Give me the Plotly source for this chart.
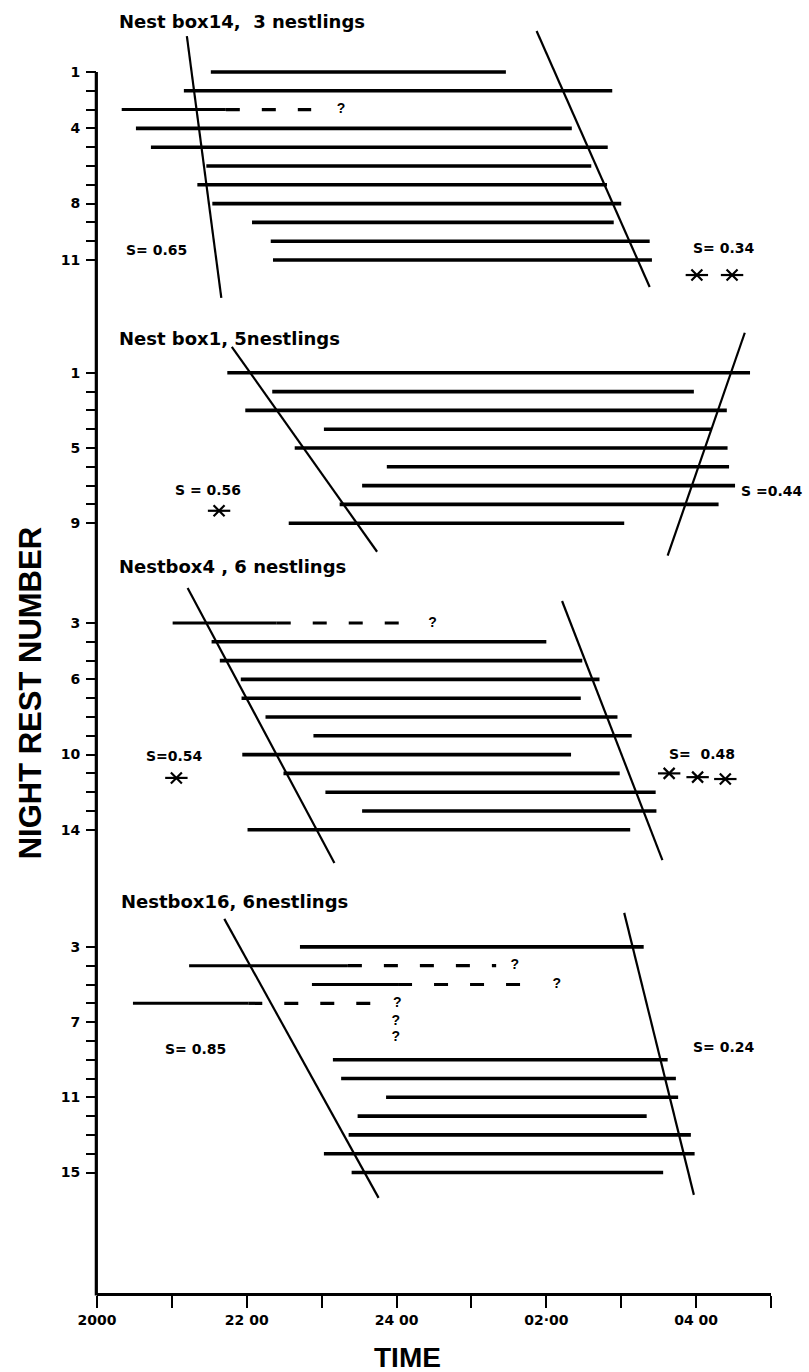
import plotly.graph_objects as go

# ---------------- DATA (time in hours on a continuous clock: 24 = midnight, 28 = 04:00) ----------
# Panel 1: Nest box 14, 3 nestlings
p1_title = "Nest box14,\u00a0\u00a03 nestlings"
p1_nights = [1, 2, 4, 5, 6, 7, 8, 9, 10, 11]
p1_start = [21.52, 21.16, 20.52, 20.72, 21.46, 21.34, 21.54, 22.07, 22.32, 22.35]
p1_end = [25.46, 26.88, 26.34, 26.82, 26.60, 26.81, 27.00, 26.90, 27.38, 27.41]
p1_unc_nights = [3]
p1_unc_start = [20.33]
p1_unc_solid_end = [21.72]
p1_unc_dash_end = [22.86]
p1_q_nights = [3]
p1_q_time = [23.26]
p1_onset_time = [21.20, 21.66]
p1_onset_night = [-0.91, 13.02]
p1_wake_time = [25.87, 27.38]
p1_wake_night = [-1.18, 12.44]
p1_s_labels = ["S=\u00a00.65", "S=\u00a00.34"]
p1_s_time = [20.79, 28.37]
p1_s_night = [10.47, 10.36]
p1_star_time = [28.01, 28.48]
p1_star_night = [11.8, 11.8]
p1_ticks = list(range(1, 12))
p1_tick_labels = [1, 4, 8, 11]

# Panel 2: Nest box 1, 5 nestlings
p2_title = "Nest box1, 5nestlings"
p2_nights = [1, 2, 3, 4, 5, 6, 7, 8, 9]
p2_start = [21.74, 22.34, 21.98, 23.03, 22.64, 23.87, 23.54, 23.24, 22.56]
p2_end = [28.72, 27.97, 28.41, 28.20, 28.42, 28.44, 28.52, 28.30, 27.04]
p2_unc_nights = []
p2_unc_start = []
p2_unc_solid_end = []
p2_unc_dash_end = []
p2_q_nights = []
p2_q_time = []
p2_onset_time = [21.80, 23.74]
p2_onset_night = [-0.38, 10.52]
p2_wake_time = [28.65, 27.62]
p2_wake_night = [-1.13, 10.73]
p2_s_labels = ["S\u00a0=\u00a00.56", "S\u00a0=0.44"]
p2_s_time = [21.48, 29.0]
p2_s_night = [7.22, 7.28]
p2_star_time = [21.63]
p2_star_night = [8.34]
p2_ticks = list(range(1, 10))
p2_tick_labels = [1, 5, 9]

# Panel 3: Nest box 4, 6 nestlings
p3_title = "Nestbox4 , 6 nestlings"
p3_nights = [4, 5, 6, 7, 8, 9, 10, 11, 12, 13, 14]
p3_start = [21.53, 21.64, 21.92, 21.93, 22.25, 22.89, 21.94, 22.49, 23.05, 23.54, 22.01]
p3_end = [26.00, 26.48, 26.71, 26.46, 26.95, 27.14, 26.33, 26.98, 27.46, 27.47, 27.12]
p3_unc_nights = [3]
p3_unc_start = [21.01]
p3_unc_solid_end = [22.40]
p3_unc_dash_end = [24.28]
p3_q_nights = [3]
p3_q_time = [24.48]
p3_onset_time = [21.21, 23.17]
p3_onset_night = [1.14, 15.77]
p3_wake_time = [26.21, 27.55]
p3_wake_night = [1.83, 15.61]
p3_s_labels = ["S=0.54", "S=\u00a0\u00a00.48"]
p3_s_time = [21.03, 28.08]
p3_s_night = [10.07, 9.97]
p3_star_time = [21.06, 27.64, 28.02, 28.39]
p3_star_night = [11.24, 11.0, 11.2, 11.3]
p3_ticks = list(range(3, 15))
p3_tick_labels = [3, 6, 10, 14]

# Panel 4: Nest box 16, 6 nestlings
p4_title = "Nestbox16, 6nestlings"
p4_nights = [3, 9, 10, 11, 12, 13, 14, 15]
p4_start = [22.71, 23.15, 23.26, 23.86, 23.48, 23.36, 23.03, 23.40]
p4_end = [27.30, 27.62, 27.73, 27.76, 27.34, 27.93, 27.98, 27.56]
p4_unc_nights = [4, 5, 6]
p4_unc_start = [21.23, 22.87, 20.48]
p4_unc_solid_end = [23.35, 24.02, 22.02]
p4_unc_dash_end = [25.33, 25.82, 23.82]
p4_q_nights = [4, 5, 6, 6.95, 7.8]
p4_q_time = [25.58, 26.14, 24.01, 23.99, 23.99]
p4_onset_time = [21.70, 23.76]
p4_onset_night = [1.51, 16.35]
p4_wake_time = [27.04, 27.97]
p4_wake_night = [1.19, 16.19]
p4_s_labels = ["S=\u00a00.85", "S=\u00a00.24"]
p4_s_time = [21.31, 28.36]
p4_s_night = [8.43, 8.32]
p4_star_time = []
p4_star_night = []
p4_ticks = list(range(3, 16))
p4_tick_labels = [3, 7, 11, 15]

x_tick_hours = list(range(20, 30))
x_label_hours = [20, 22, 24, 26, 28]
x_label_text = ["2000", "22 00", "24 00", "02\u00b700", "04 00"]

# ---------------- LAYOUT HELPERS ----------------
panel_offset = [0.0, 16.0, 27.31, 44.54]
title_pos = [(20.27, -1.71), (20.27, -0.81), (20.27, -0.03), (20.29, 0.61)]
y_top, y_bottom = -2.83, 65.95

panels = [
    dict(title=p1_title, n=p1_nights, s=p1_start, e=p1_end, un=p1_unc_nights, us=p1_unc_start,
         ue=p1_unc_solid_end, ud=p1_unc_dash_end, qn=p1_q_nights, qt=p1_q_time,
         ot=p1_onset_time, on=p1_onset_night, wt=p1_wake_time, wn=p1_wake_night,
         sl=p1_s_labels, st=p1_s_time, sn=p1_s_night, xt=p1_star_time, xn=p1_star_night,
         ticks=p1_ticks, labels=p1_tick_labels),
    dict(title=p2_title, n=p2_nights, s=p2_start, e=p2_end, un=p2_unc_nights, us=p2_unc_start,
         ue=p2_unc_solid_end, ud=p2_unc_dash_end, qn=p2_q_nights, qt=p2_q_time,
         ot=p2_onset_time, on=p2_onset_night, wt=p2_wake_time, wn=p2_wake_night,
         sl=p2_s_labels, st=p2_s_time, sn=p2_s_night, xt=p2_star_time, xn=p2_star_night,
         ticks=p2_ticks, labels=p2_tick_labels),
    dict(title=p3_title, n=p3_nights, s=p3_start, e=p3_end, un=p3_unc_nights, us=p3_unc_start,
         ue=p3_unc_solid_end, ud=p3_unc_dash_end, qn=p3_q_nights, qt=p3_q_time,
         ot=p3_onset_time, on=p3_onset_night, wt=p3_wake_time, wn=p3_wake_night,
         sl=p3_s_labels, st=p3_s_time, sn=p3_s_night, xt=p3_star_time, xn=p3_star_night,
         ticks=p3_ticks, labels=p3_tick_labels),
    dict(title=p4_title, n=p4_nights, s=p4_start, e=p4_end, un=p4_unc_nights, us=p4_unc_start,
         ue=p4_unc_solid_end, ud=p4_unc_dash_end, qn=p4_q_nights, qt=p4_q_time,
         ot=p4_onset_time, on=p4_onset_night, wt=p4_wake_time, wn=p4_wake_night,
         sl=p4_s_labels, st=p4_s_time, sn=p4_s_night, xt=p4_star_time, xn=p4_star_night,
         ticks=p4_ticks, labels=p4_tick_labels),
]

FONT = "Liberation Sans, Arial, sans-serif"
TFONT = "DejaVu Sans, Liberation Sans, sans-serif"
BAR_W = 3.6
fig = go.Figure()
annotations = []
tickvals, ticktext = [], []

for i, p in enumerate(panels):
    off = panel_offset[i]
    # solid night-rest bars
    xs, ys = [], []
    for n, s, e in zip(p["n"], p["s"], p["e"]):
        xs += [s, e, None]
        ys += [off + n, off + n, None]
    fig.add_trace(go.Scatter(x=xs, y=ys, mode="lines", line=dict(color="black", width=BAR_W),
                             hoverinfo="skip", showlegend=False))
    # uncertain bars: solid part then dashed part
    xs, ys, xd, yd = [], [], [], []
    for n, s, e, d in zip(p["un"], p["us"], p["ue"], p["ud"]):
        xs += [s, e, None]
        ys += [off + n, off + n, None]
        xd += [e, d, None]
        yd += [off + n, off + n, None]
    if xs:
        fig.add_trace(go.Scatter(x=xs, y=ys, mode="lines", line=dict(color="black", width=3.0),
                                 hoverinfo="skip", showlegend=False))
        fig.add_trace(go.Scatter(x=xd, y=yd, mode="lines",
                                 line=dict(color="black", width=3.2, dash="14px,22px"),
                                 hoverinfo="skip", showlegend=False))
    if p["qn"]:
        fig.add_trace(go.Scatter(x=p["qt"], y=[off + n for n in p["qn"]], mode="text",
                                 text=["?"] * len(p["qn"]),
                                 textfont=dict(family=FONT, size=14, color="black", weight="bold"),
                                 hoverinfo="skip", showlegend=False))
    # regression lines (onset and wake-up)
    for lx, ln in ((p["ot"], p["on"]), (p["wt"], p["wn"])):
        fig.add_trace(go.Scatter(x=lx, y=[off + n for n in ln], mode="lines",
                                 line=dict(color="black", width=2.2),
                                 hoverinfo="skip", showlegend=False))
    # stars
    if p["xt"]:
        sy = [off + n for n in p["xn"]]
        fig.add_trace(go.Scatter(x=p["xt"], y=sy, mode="markers",
                                 marker=dict(symbol="x-thin", size=11, line=dict(width=2.2, color="black")),
                                 hoverinfo="skip", showlegend=False))
        fig.add_trace(go.Scatter(x=p["xt"], y=sy, mode="markers",
                                 marker=dict(symbol="line-ew", size=16, line=dict(width=2.2, color="black")),
                                 hoverinfo="skip", showlegend=False))
    # S labels
    for lab, t, n in zip(p["sl"], p["st"], p["sn"]):
        annotations.append(dict(x=t, y=off + n, xref="x", yref="y", text=lab, showarrow=False,
                                xanchor="center", yanchor="middle",
                                font=dict(family=TFONT, size=14, color="black", weight="bold")))
    # panel title
    tx, tn = title_pos[i]
    annotations.append(dict(x=tx, y=off + tn, xref="x", yref="y", text=p["title"], showarrow=False,
                            xanchor="left", yanchor="middle",
                            font=dict(family=TFONT, size=18, color="black", weight="bold")))
    # y ticks
    for t in p["ticks"]:
        tickvals.append(off + t)
        ticktext.append(str(t) if t in p["labels"] else "")

# axis titles
annotations.append(dict(x=0.46, y=-0.05, xref="paper", yref="paper", text="TIME", showarrow=False,
                        xanchor="center", yanchor="middle",
                        font=dict(family=FONT, size=28, color="black", weight="bold")))
annotations.append(dict(x=-0.099, y=0.464, xref="paper", yref="paper", text="NIGHT REST NUMBER",
                        showarrow=False, textangle=-90, xanchor="center", yanchor="middle",
                        font=dict(family=FONT, size=31, color="black", weight="bold")))

# vertical axis line (starts at the first night of panel 1), paper-referenced so it is not clipped
axis_top_frac = (y_bottom - (panel_offset[0] + p1_ticks[0])) / (y_bottom - y_top)
shapes = [dict(type="line", xref="paper", yref="paper", x0=-0.001, x1=-0.001,
               y0=axis_top_frac, y1=-0.002, line=dict(color="black", width=3.2))]

fig.update_layout(
    width=809, height=1372,
    margin=dict(l=97, r=38, t=0, b=79),
    paper_bgcolor="white", plot_bgcolor="white",
    showlegend=False,
    annotations=annotations,
    shapes=shapes,
    xaxis=dict(range=[20, 29], showgrid=False, zeroline=False, showline=True, linecolor="black",
               linewidth=3.2, ticks="outside", ticklen=12, tickwidth=2.2, tickcolor="black",
               tickvals=x_tick_hours,
               ticktext=[x_label_text[x_label_hours.index(h)] if h in x_label_hours else "" for h in x_tick_hours],
               tickfont=dict(family=TFONT, size=14, color="black", weight="bold")),
    yaxis=dict(range=[y_bottom, y_top], showgrid=False, zeroline=False, showline=False,
               ticks="outside", ticklen=10, tickwidth=2.2, tickcolor="black",
               tickvals=tickvals, ticktext=ticktext, ticklabelstandoff=3,
               tickfont=dict(family=TFONT, size=14, color="black", weight="bold")),
)

fig.write_html("out.html")
